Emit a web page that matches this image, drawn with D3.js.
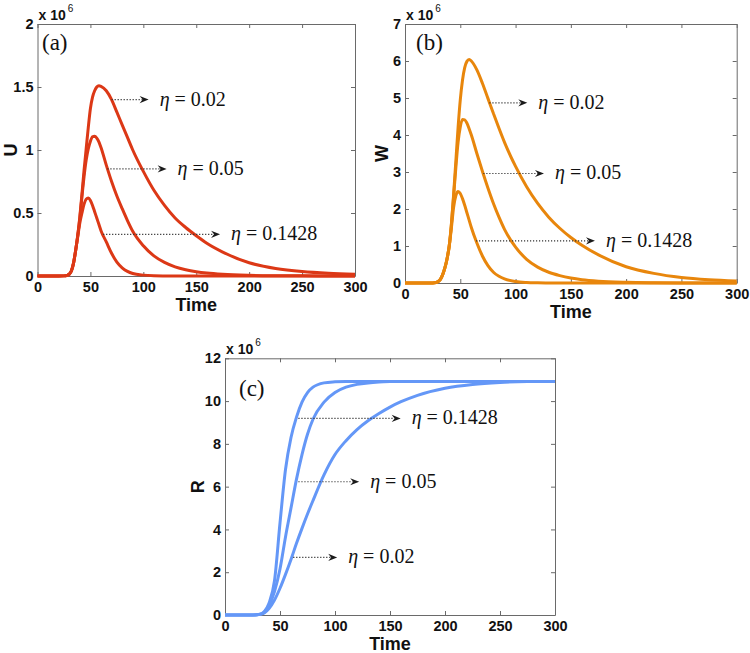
<!DOCTYPE html>
<html><head><meta charset="utf-8">
<script src="https://cdn.jsdelivr.net/npm/d3@7"></script>
<style>body{margin:0;background:#fff} svg{display:block}</style>
</head><body>
<svg id="chart" width="750" height="653"></svg>
<script>
// ---------- data ----------
const timeUW = [0,20,25,28,30,32,34,36,38,40,42,44,46,48,50,52,54,56,58,60,65,70,75,80,85,90,100,110,120,130,140,150,160,175,200,225,250,275,300];

const U_eta002  = [0,0,0.001,0.005,0.015,0.04,0.1,0.2,0.32,0.47,0.65,0.84,1.01,1.18,1.33,1.42,1.47,1.5,1.51,1.505,1.47,1.40,1.3,1.2,1.1,1.0,0.83,0.68,0.56,0.46,0.385,0.32,0.26,0.19,0.105,0.06,0.035,0.021,0.013];
const U_eta005  = [0,0,0.001,0.005,0.015,0.04,0.1,0.2,0.32,0.46,0.63,0.79,0.92,1.01,1.07,1.105,1.11,1.095,1.065,1.02,0.88,0.75,0.635,0.535,0.44,0.355,0.24,0.16,0.108,0.073,0.05,0.034,0.023,0.013,0.005,0.002,0.001,0,0];
const U_eta01428= [0,0,0.001,0.005,0.015,0.04,0.1,0.2,0.31,0.42,0.5,0.57,0.61,0.62,0.6,0.56,0.51,0.46,0.41,0.36,0.27,0.18,0.11,0.065,0.037,0.02,0.007,0.002,0.0005,0,0,0,0,0,0,0,0,0,0];

const W_eta002  = [0,0,0.003,0.012,0.04,0.1,0.22,0.4,0.65,1.0,1.6,2.4,3.3,4.2,4.95,5.48,5.82,5.99,6.04,6.0,5.76,5.4,4.99,4.58,4.18,3.8,3.15,2.6,2.15,1.78,1.48,1.23,1.02,0.76,0.44,0.26,0.15,0.09,0.055];
const W_eta005  = [0,0,0.003,0.012,0.04,0.1,0.22,0.4,0.65,1.0,1.6,2.35,3.12,3.8,4.22,4.42,4.41,4.32,4.17,4.0,3.5,3.02,2.57,2.15,1.78,1.45,0.97,0.64,0.43,0.29,0.2,0.135,0.09,0.05,0.02,0.008,0.003,0.001,0];
const W_eta01428= [0,0,0.003,0.012,0.04,0.1,0.22,0.4,0.65,1.0,1.5,2.05,2.36,2.47,2.42,2.28,2.1,1.9,1.7,1.5,1.08,0.73,0.47,0.29,0.18,0.11,0.04,0.014,0.005,0.002,0,0,0,0,0,0,0,0,0];

const timeR = [0,25,30,33,36,40,45,50,55,60,65,70,75,80,90,100,110,120,130,140,150,160,175,200,225,250,275,300];
const R_eta002  = [0,0,0.015,0.04,0.11,0.3,0.7,1.25,1.9,2.6,3.35,4.05,4.72,5.35,6.55,7.5,8.15,8.67,9.08,9.42,9.72,9.97,10.27,10.6,10.78,10.87,10.91,10.92];
const R_eta005  = [0,0,0.02,0.05,0.15,0.45,1.1,2.15,3.65,5.0,6.35,7.5,8.45,9.15,9.95,10.4,10.65,10.78,10.85,10.89,10.91,10.92,10.92,10.92,10.92,10.92,10.92,10.92];
const R_eta01428= [0,0,0.02,0.06,0.18,0.55,1.6,4.3,6.8,8.3,9.25,9.95,10.4,10.65,10.85,10.9,10.92,10.92,10.92,10.92,10.92,10.92,10.92,10.92,10.92,10.92,10.92,10.92];

const xTicks = [0,50,100,150,200,250,300];
const uTicks = [0,0.5,1,1.5,2];
const wTicks = [0,1,2,3,4,5,6,7];
const rTicks = [0,2,4,6,8,10,12];
const etaLabels = ["0.02","0.05","0.1428"];

// annotation anchors in data units: [value, t start of dotted line, t of arrow tip]
const annU = [[1.40,70,105],[0.85,66,122],[0.331,62,172.5]];
const annW = [[4.87,76.3,110.6],[2.96,70.8,125.7],[1.14,64.2,171.8]];
const annR = [[2.69,62,102],[6.23,66.7,122],[9.19,66.7,159.7]];

// ---------- drawing ----------
const svg = d3.select("#chart");

function panel(cfg) {
  const x = d3.scaleLinear().domain([0,300]).range([cfg.left, cfg.right]);
  const y = d3.scaleLinear().domain([0, cfg.ymax]).range([cfg.bottom, cfg.top]);
  const g = svg.append("g");
  const axisColor = "#6a6a6a";
  const tk = 4;

  const fmt = d => String(d);
  const ax = [
    g.append("g").attr("transform",`translate(0,${cfg.bottom})`).call(d3.axisBottom(x).tickValues(xTicks).tickFormat(fmt).tickSizeInner(-tk).tickSizeOuter(0).tickPadding(6)),
    g.append("g").attr("transform",`translate(0,${cfg.top})`).call(d3.axisTop(x).tickValues(xTicks).tickFormat("").tickSizeInner(-tk).tickSizeOuter(0)),
    g.append("g").attr("transform",`translate(${cfg.left},0)`).call(d3.axisLeft(y).tickValues(cfg.yTicks).tickFormat(fmt).tickSizeInner(-tk).tickSizeOuter(0).tickPadding(4)),
    g.append("g").attr("transform",`translate(${cfg.right},0)`).call(d3.axisRight(y).tickValues(cfg.yTicks).tickFormat("").tickSizeInner(-tk).tickSizeOuter(0))
  ];
  ax.forEach(a => {
    a.selectAll("path.domain").attr("stroke", axisColor).attr("stroke-width", 1);
    a.selectAll(".tick line").attr("stroke", axisColor);
    a.selectAll(".tick text").attr("fill","#111").attr("font-family","'Liberation Sans', Arial, sans-serif")
      .attr("font-weight","bold").attr("font-size","14.5px");
  });

  // exponent label
  const ex = g.append("text").attr("x", cfg.left + 1).attr("y", cfg.top - 4.5)
    .attr("font-family","'Liberation Sans', Arial, sans-serif").attr("fill","#111");
  ex.append("tspan").attr("font-weight","bold").attr("font-size","14px").text("x 10");
  ex.append("tspan").attr("font-size","10px").attr("dx","2").attr("dy","-8").text("6");

  // axis titles
  g.append("text").attr("x",(cfg.left+cfg.right)/2).attr("y",cfg.bottom+35)
    .attr("text-anchor","middle").attr("font-family","'Liberation Sans', Arial, sans-serif")
    .attr("font-weight","bold").attr("font-size","18px").attr("fill","#111").text("Time");
  g.append("text").attr("transform",`translate(${cfg.ytX},${(cfg.top+cfg.bottom)/2}) rotate(-90)`)
    .attr("text-anchor","middle").attr("dy","0.36em").attr("font-family","'Liberation Sans', Arial, sans-serif")
    .attr("font-weight","bold").attr("font-size","18px").attr("fill","#111").text(cfg.ytitle);

  // panel tag
  g.append("text").attr("x",cfg.tagX).attr("y",cfg.tagY)
    .attr("font-family","'Liberation Serif', 'Times New Roman', serif").attr("font-size","23px").attr("fill","#111").text(cfg.tag);

  // curves
  const line = d3.line().x((d,i)=>x(cfg.times[i])).y(d=>y(d)).curve(d3.curveMonotoneX);
  cfg.series.forEach(s => {
    g.append("path").datum(s).attr("d", line).attr("fill","none")
      .attr("stroke", cfg.color).attr("stroke-width", 3).attr("stroke-linejoin","round");
  });

  // annotations
  cfg.ann.forEach((a,i) => {
    const yy = y(a[0]), x0 = x(a[1]), x1 = x(a[2]);
    g.append("line").attr("x1",x0).attr("x2",x1-6).attr("y1",yy).attr("y2",yy)
      .attr("stroke","#333").attr("stroke-width",1.2).attr("stroke-dasharray","1.2,1.8");
    g.append("path").attr("d",`M${x1},${yy} L${x1-9},${yy-3.6} L${x1-6},${yy} L${x1-9},${yy+3.6} Z`).attr("fill","#1a1a1a");
    const t = g.append("text").attr("x", x1+11).attr("y", yy).attr("dy","0.3em")
      .attr("font-family","'Liberation Serif', 'Times New Roman', serif").attr("font-size","20px").attr("fill","#111");
    t.append("tspan").attr("font-style","italic").text("η");
    t.append("tspan").text(" = " + cfg.etas[i]);
  });
}

panel({left:37.5,right:355,top:24,bottom:276,ymax:2,yTicks:uTicks,ytitle:"U",ytX:11,tag:"(a)",tagX:42,tagY:50,
  times:timeUW,series:[U_eta002,U_eta005,U_eta01428],color:"#dc3816",ann:annU,etas:etaLabels});
panel({left:405,right:736.7,top:24,bottom:283,ymax:7,yTicks:wTicks,ytitle:"W",ytX:382,tag:"(b)",tagX:416,tagY:49.5,
  times:timeUW,series:[W_eta002,W_eta005,W_eta01428],color:"#e8860c",ann:annW,etas:etaLabels});
panel({left:225,right:555,top:358.3,bottom:615,ymax:12,yTicks:rTicks,ytitle:"R",ytX:198,tag:"(c)",tagX:239,tagY:396,
  times:timeR,series:[R_eta002,R_eta005,R_eta01428],color:"#6497f7",ann:annR,etas:etaLabels});
</script>
</body></html>
